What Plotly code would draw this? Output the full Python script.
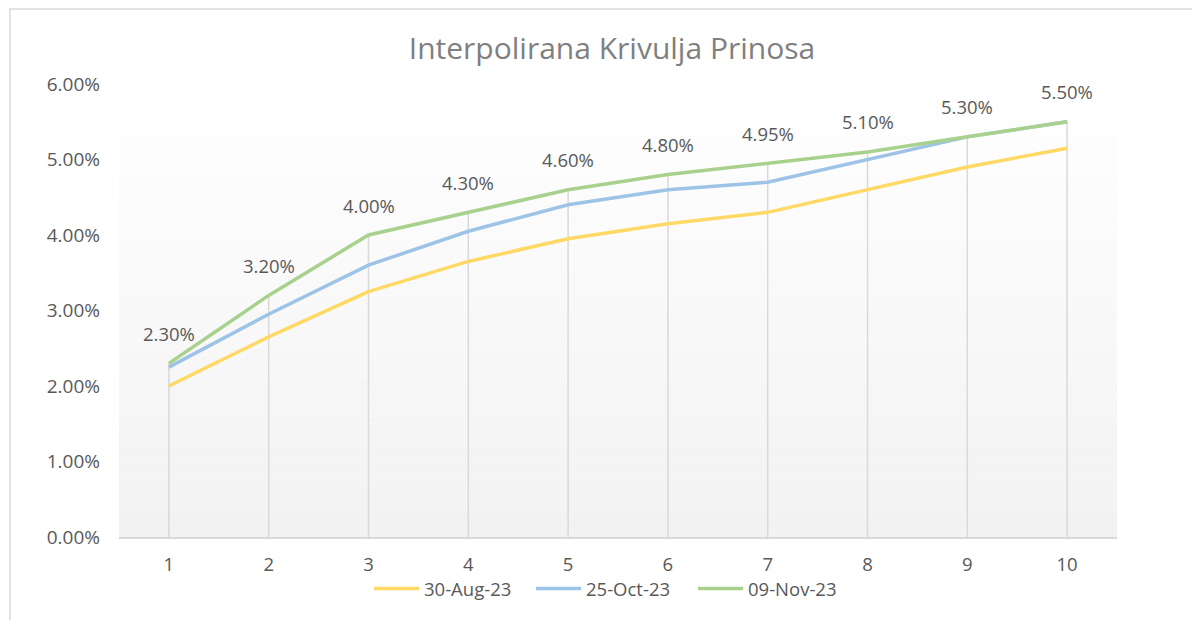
import plotly.graph_objects as go

maturities = [1, 2, 3, 4, 5, 6, 7, 8, 9, 10]
series_names = ["30-Aug-23", "25-Oct-23", "09-Nov-23"]
aug30 = [2.00, 2.65, 3.25, 3.65, 3.95, 4.15, 4.30, 4.60, 4.90, 5.15]
oct25 = [2.25, 2.95, 3.60, 4.05, 4.40, 4.60, 4.70, 5.00, 5.30, 5.50]
nov09 = [2.30, 3.20, 4.00, 4.30, 4.60, 4.80, 4.95, 5.10, 5.30, 5.50]
y_ticks = [0, 1, 2, 3, 4, 5, 6]

colors = ["#FFD966", "#9DC3E6", "#A9D18E"]
font_family = "Open Sans, DejaVu Sans, sans-serif"
text_gray = "#595959"

all_series = [aug30, oct25, nov09]

# page has an 8px body margin; figure is sized/offset to compensate
W, H = 1192, 612
ML, MT, MR, MB = 111, 76, 83, 83
PW, PH = W - ML - MR, H - MT - MB

fig = go.Figure()

# gradient plot background (white at top to light gray at bottom)
n_bands = 60
for i in range(n_bands):
    t = i / (n_bands - 1)
    c = int(round(255 - (255 - 242) * (1 - t)))
    fig.add_shape(type="rect", xref="x domain", yref="y domain",
                  x0=0, x1=1, y0=i / n_bands, y1=(i + 1) / n_bands,
                  fillcolor=f"rgb({c},{c},{c})", line=dict(width=0), layer="below")

# drop lines from the highest series down to the axis
dx, dy = [], []
for i, m in enumerate(maturities):
    top = max(s[i] for s in all_series) / 100
    dx += [m, m, None]
    dy += [0, top, None]
fig.add_trace(go.Scatter(x=dx, y=dy, mode="lines", line=dict(color="#D9D9D9", width=1.5),
                         showlegend=False, hoverinfo="skip"))

for name, vals, col in zip(series_names, all_series, colors):
    fig.add_trace(go.Scatter(x=maturities, y=[v / 100 for v in vals], mode="lines", name=name,
                             line=dict(color=col, width=3.5)))

for m, v in zip(maturities, nov09):
    fig.add_annotation(x=m, y=v / 100, text=f"{v:.2f}%", showarrow=False, yshift=30,
                       font=dict(size=18.5, color=text_gray, family=font_family))

# outer chart frame
fig.add_shape(type="rect", xref="paper", yref="paper",
              x0=(2 - ML) / PW, x1=(W + 20 - ML) / PW,
              y0=-(H + 20 - (MT + PH)) / PH, y1=1 + (MT - 1) / PH,
              line=dict(color="#D9D9D9", width=1.5), fillcolor="rgba(0,0,0,0)", layer="below")

fig.update_layout(
    width=W, height=H,
    margin=dict(l=ML, r=MR, t=MT, b=MB, autoexpand=False),
    paper_bgcolor="white", plot_bgcolor="rgba(0,0,0,0)",
    title=dict(text="Interpolirana Krivulja Prinosa", x=604 / W, xanchor="center",
               y=1 - 40 / H, yanchor="middle",
               font=dict(size=30, color="#7F7F7F", family=font_family)),
    font=dict(family=font_family, size=18.5, color=text_gray),
    legend=dict(orientation="h", x=0.494, xanchor="center", y=-0.073, yanchor="top",
                entrywidth=102, entrywidthmode="pixels", itemwidth=45,
                font=dict(size=18.5, color=text_gray, family=font_family), bgcolor="rgba(0,0,0,0)"),
    showlegend=True,
)
fig.update_xaxes(range=[0.5, 10.5], tickvals=maturities, ticktext=[str(m) for m in maturities],
                 showgrid=False, zeroline=False, showline=True, linecolor="#D9D9D9", linewidth=1.5,
                 ticks="", tickfont=dict(size=18.5, color=text_gray), ticklabelstandoff=10)
fig.update_yaxes(range=[0, 0.06], tickvals=[t / 100 for t in y_ticks], tickformat=".2%",
                 showgrid=False, zeroline=False, showline=False, ticks="",
                 tickfont=dict(size=19, color=text_gray), ticklabelstandoff=18)

fig.write_html("out.html")
